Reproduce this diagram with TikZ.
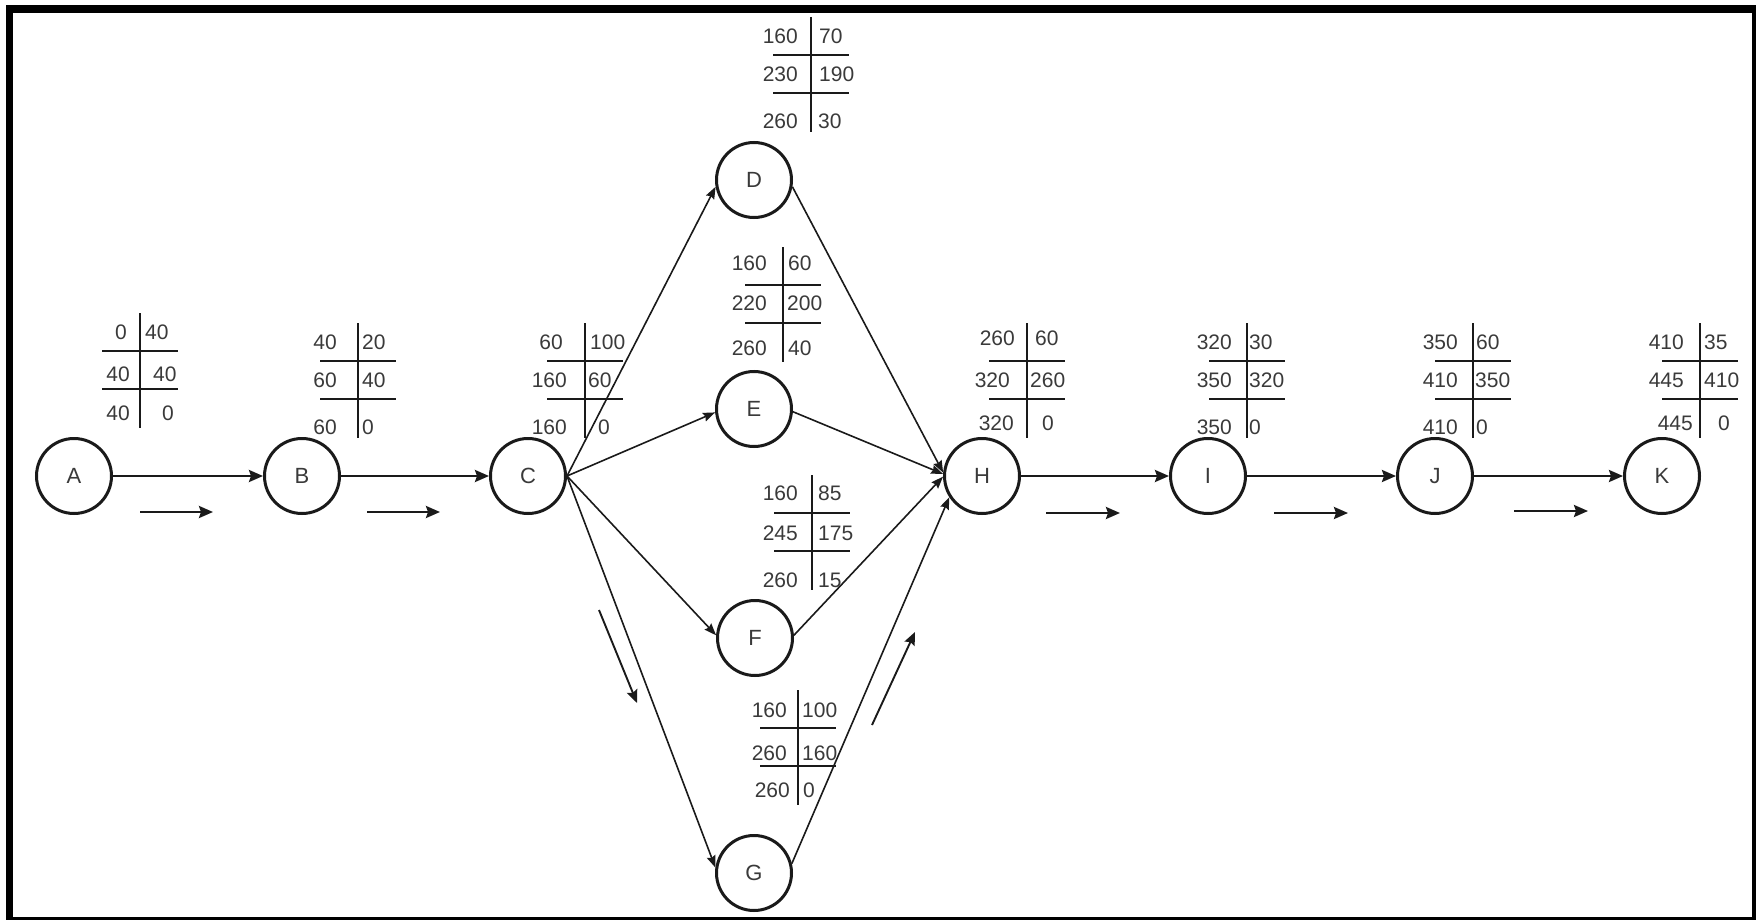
\documentclass[tikz,border=0pt]{standalone}
\usepackage{fontspec}
\setmainfont{Liberation Sans}
\usetikzlibrary{arrows.meta}

\definecolor{ink}{HTML}{1A1A1A}
\definecolor{txt}{HTML}{3A3A3A}

\tikzset{
  event/.style={circle, draw=ink, line width=3pt, minimum size=75pt, inner sep=0pt,
                font=\fontsize{22}{24}\selectfont, text=txt},
  act/.style={draw=ink, line width=2.4pt, -{Stealth[length=14pt,width=12pt,inset=2pt]}},
  diag/.style={draw=ink, line width=1.6pt, -{Stealth[length=12pt,width=9pt,inset=1.5pt]}},
  hint/.style={draw=ink, line width=2.4pt, -{Stealth[length=14pt,width=12pt,inset=2pt]}},
  slanthint/.style={draw=ink, line width=1.9pt, -{Stealth[length=13pt,width=11pt,inset=2pt]}},
  tabline/.style={draw=ink, line width=2pt},
  cellfont/.style={inner sep=0pt, font=\fontsize{21}{23}\selectfont, text=txt},
  lcell/.style={cellfont, anchor=east},
  rcell/.style={cellfont, anchor=west},
}

% Time table beside an event: #1 name, #2 x of the divider, #3 top y,
% #4 left cells (text/offset/row y), #5 right cells (text/offset/row y)
\newcommand\esttable[5]{%
  \draw[tabline] (#2,#3) -- (#2,#3+115);
  \draw[tabline] (#2-38,#3+38) -- (#2+38,#3+38);
  \draw[tabline] (#2-38,#3+76) -- (#2+38,#3+76);
  \foreach \t/\dx/\dy [count=\i] in {#4}
    \node[lcell] (#1l\i) at (#2-\dx,#3+\dy) {\t};
  \foreach \t/\dx/\dy [count=\i] in {#5}
    \node[rcell] (#1r\i) at (#2+\dx,#3+\dy) {\t};
}

\begin{document}
\begin{tikzpicture}[x=1pt,y=-1pt]
\useasboundingbox (0,0) rectangle (1756,920);
\fill[white] (0,0) rectangle (1756,920);
% frame
\fill[black] (6,5) rectangle (1756,920);
\fill[white] (13,13) rectangle (1752,917);

% events
\node[event] (A) at (74,476) {A};
\node[event] (B) at (302,476) {B};
\node[event] (C) at (528,476) {C};
\node[event] (D) at (754,180) {D};
\node[event] (E) at (754,409) {E};
\node[event] (F) at (755,638) {F};
\node[event] (G) at (754,873) {G};
\node[event] (H) at (982,476) {H};
\node[event] (I) at (1208,476) {I};
\node[event] (J) at (1435,476) {J};
\node[event] (K) at (1662,476) {K};

% activities
\draw[act] (A) -- (B);
\draw[act] (B) -- (C);
\draw[diag] (C.east) -- (D.190);
\draw[diag] (C.east) -- (E.185);
\draw[diag] (C.east) -- (F.176);
\draw[diag] (C.east) -- (G.172);
\draw[diag] (D.-10) -- (H.175);
\draw[diag] (E.-4) -- (H.177);
\draw[diag] (F.4) -- (H.181);
\draw[diag] (G.14) -- (H.213);
\draw[act] (H) -- (I);
\draw[act] (I) -- (J);
\draw[act] (J) -- (K);

% direction hints along the critical path
\coordinate (h1a) at (140,512);  \coordinate (h1b) at (213,512);
\coordinate (h2a) at (367,512);  \coordinate (h2b) at (440,512);
\coordinate (h3a) at (599,610);  \coordinate (h3b) at (637,703);
\coordinate (h4a) at (872,725);  \coordinate (h4b) at (915,632);
\coordinate (h5a) at (1046,513); \coordinate (h5b) at (1120,513);
\coordinate (h6a) at (1274,513); \coordinate (h6b) at (1348,513);
\coordinate (h7a) at (1514,511); \coordinate (h7b) at (1588,511);
\foreach \k in {1,2,5,6,7} \draw[hint] (h\k a) -- (h\k b);
\draw[slanthint] (h3a) -- (h3b);
\draw[slanthint] (h4a) -- (h4b);

% time tables
\esttable{tA}{140}{313}{0/13/19, 40/10/61, 40/10/100}{40/5/19, 40/13/61, 0/22/100}
\esttable{tB}{358}{323}{40/21/19, 60/21/57, 60/21/104}{20/4/19, 40/4/57, 0/4/104}
\esttable{tC}{585}{323}{60/22/19, 160/18/57, 160/18/104}{100/5/19, 60/3/57, 0/13/104}
\esttable{tD}{811}{17}{160/13/19, 230/13/57, 260/13/104}{70/8/19, 190/8/57, 30/7/104}
\esttable{tE}{783}{247}{160/16/16, 220/16/56, 260/16/101}{60/5/16, 200/4/56, 40/5/101}
\esttable{tF}{812}{475}{160/14/18, 245/14/58, 260/14/105}{85/6/18, 175/6/58, 15/6/105}
\esttable{tG}{798}{690}{160/11/20, 260/11/63, 260/8/100}{100/4/20, 160/4/63, 0/5/100}
\esttable{tH}{1027}{323}{260/12/15, 320/17/57, 320/13/100}{60/8/15, 260/3/57, 0/15/100}
\esttable{tI}{1247}{323}{320/15/19, 350/15/57, 350/15/104}{30/2/19, 320/2/57, 0/2/104}
\esttable{tJ}{1473}{323}{350/15/19, 410/15/57, 410/15/104}{60/3/19, 350/2/57, 0/3/104}
\esttable{tK}{1700}{323}{410/16/19, 445/16/57, 445/7/100}{35/4/19, 410/4/57, 0/18/100}
\end{tikzpicture}
\end{document}
